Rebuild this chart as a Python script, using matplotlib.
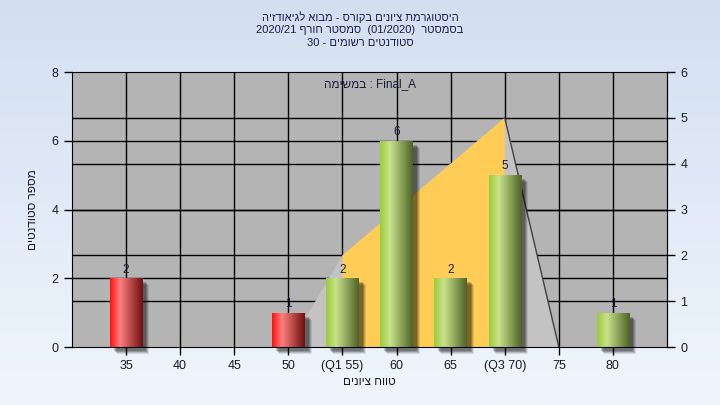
import numpy as np
import matplotlib
matplotlib.use("Agg")
import matplotlib.pyplot as plt
from matplotlib.colors import LinearSegmentedColormap
from matplotlib.patches import Rectangle
import matplotlib.transforms as mtransforms

plt.rcParams['font.family'] = ['Liberation Sans', 'DejaVu Sans']


def rtl(s):
    # matplotlib has no bidi support, so flip Hebrew runs by hand
    return s[::-1]


# histogram data
bin_centers = [35, 40, 45, 50, 55, 60, 65, 70, 75, 80]
counts = [2, 0, 0, 1, 2, 6, 2, 5, 0, 1]
tick_labels = ['35', '40', '45', '50', '(Q1 55)', '60', '65', '(Q3 70)', '75', '80']
pass_grade = 55

# distribution outline (right axis units) and quartiles
curve_x = [50, 55, 70, 75]
curve_y = [0, 2, 5, 0]
q1, q3 = 55, 70

title_lines = [
    rtl("היסטוגרמת ציונים בקורס - מבוא לגיאודזיה"),
    "2020/21 " + rtl("סמסטר חורף") + "  (01/2020)  " + rtl("בסמסטר"),
    "30 - " + rtl("סטודנטים רשומים"),
]
task_label = rtl("במשימה") + " : Final_A"
xlabel = rtl("טווח ציונים")
ylabel = rtl("מספר סטודנטים")

left_max, right_max = 8, 6
scale = left_max / right_max

fig = plt.figure(figsize=(7.2, 4.05), dpi=100)

# background gradient
bg = fig.add_axes([0, 0, 1, 1], zorder=-10)
grad = np.linspace(0, 1, 256).reshape(-1, 1)
bg_cmap = LinearSegmentedColormap.from_list("bg", ["#d3dff1", "#eff6fd"])
bg.imshow(grad, aspect='auto', cmap=bg_cmap, extent=(0, 1, 0, 1), origin='upper')
bg.set_axis_off()

ax = fig.add_axes([0.1, 0.1432, 0.8264, 0.679])
ax.set_facecolor("#b4b4b4")
ax.set_axisbelow(True)

# grid: left ticks, right ticks and vertical lines
for y in [2, 4, 6]:
    ax.axhline(y, color='black', lw=1, zorder=0.3)
for y in range(1, right_max):
    ax.axhline(y * scale, color='black', lw=1, zorder=0.3)
for x in bin_centers:
    ax.axvline(x, color='black', lw=1, zorder=0.3)

# distribution polygon
cy = [v * scale for v in curve_y]
ax.fill(curve_x + [curve_x[0]], cy + [cy[0]], color="#c3c3c3", zorder=1, lw=0)
yq1 = np.interp(q1, curve_x, cy)
yq3 = np.interp(q3, curve_x, cy)
ax.fill([q1, q1, q3, q3], [0, yq1, yq3, 0], color="#ffcc55", zorder=1.1, lw=0)
ax.plot(curve_x[-2:], cy[-2:], color="#404040", lw=1, zorder=1.2)

red_cmap = LinearSegmentedColormap.from_list(
    "red", [(0, "#ff1010"), (0.3, "#ff8080"), (1, "#701010")])
green_cmap = LinearSegmentedColormap.from_list(
    "green", [(0, "#9ccc3c"), (0.3, "#c8e28c"), (1, "#4e6426")])

width = 3.0
hgrad = np.linspace(0, 1, 64).reshape(1, -1)
for x, c in zip(bin_centers, counts):
    if c == 0:
        continue
    # soft shadow
    for off, a in [(7, 0.10), (6, 0.15), (5, 0.2), (4, 0.2)]:
        tr = mtransforms.offset_copy(ax.transData, fig=fig, x=off, y=-off, units='dots')
        ax.add_patch(Rectangle((x - width / 2, 0), width, c, transform=tr,
                               color='black', alpha=a, lw=0, zorder=1.5, clip_on=False))
    rect = Rectangle((x - width / 2, 0), width, c, facecolor='none', lw=0, zorder=2)
    ax.add_patch(rect)
    cmap = red_cmap if x < pass_grade else green_cmap
    im = ax.imshow(hgrad, cmap=cmap, aspect='auto', zorder=2,
                   extent=(x - width / 2, x + width / 2, 0, c))
    im.set_clip_path(rect)
    ax.text(x, c + 0.08, str(c), ha='center', va='bottom', fontsize=8.5,
            color="#1a1a3a", zorder=3)

ax.set_xlim(30, 85)
ax.set_ylim(0, left_max)
ax.set_xticks(bin_centers)
ax.set_xticklabels(tick_labels)
ax.set_yticks([0, 2, 4, 6, 8])
ax.tick_params(direction='out', length=6, width=1, labelsize=9, colors='black',
               labelcolor="#1a1a2a")

sec = ax.secondary_yaxis('right', functions=(lambda y: y / scale, lambda y: y * scale))
sec.set_yticks(range(0, right_max + 1))
sec.tick_params(direction='out', length=6, width=1, labelsize=9, labelcolor="#1a1a2a")

for sp in ax.spines.values():
    sp.set_color('black')

ax.set_xlabel(xlabel, fontsize=8.5, color="#1a1a2a", labelpad=3)
ax.set_ylabel(ylabel, fontsize=8.5, color="#1a1a2a", labelpad=9)

ax.text(0.5, 0.955, task_label, transform=ax.transAxes, ha='center', va='center',
        fontsize=8.5, color="#1a1a3a")

for i, line in enumerate(title_lines):
    fig.text(0.5, 1 - (17 + 13 * i) / 405, line, ha='center', va='center',
             fontsize=8, color="#1a1a4a")

fig.savefig("out.png", dpi=100)
